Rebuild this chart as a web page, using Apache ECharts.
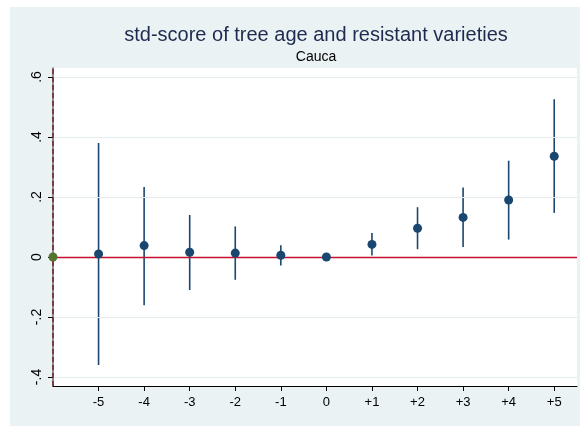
<!DOCTYPE html>
<html>
<head>
<meta charset="utf-8">
<script src="https://cdn.jsdelivr.net/npm/echarts@6/dist/echarts.min.js"></script>
<style>
  html, body { margin: 0; padding: 0; background: #fff; }
  #main { width: 580px; height: 426px; }
</style>
</head>
<body>
<div id="main"></div>
<script>
  // event time (years relative to change)
  let xTicks = [-5, -4, -3, -2, -1, 0, 1, 2, 3, 4, 5]
  let xTickLabels = ['-5', '-4', '-3', '-2', '-1', '0', '+1', '+2', '+3', '+4', '+5']
  // point estimates and 95% CI
  let coef = [0.010, 0.038, 0.016, 0.013, 0.006, 0.000, 0.042, 0.096, 0.132, 0.190, 0.336]
  let ciLow = [-0.360, -0.161, -0.110, -0.076, -0.028, 0.000, 0.005, 0.026, 0.033, 0.058, 0.147]
  let ciHigh = [0.380, 0.233, 0.140, 0.102, 0.039, 0.000, 0.080, 0.166, 0.232, 0.321, 0.526]
  let yTicks = [-0.4, -0.2, 0, 0.2, 0.4, 0.6]
  let yTickLabels = ['-.4', '-.2', '0', '.2', '.4', '.6']
  let refPoint = [[-6, 0]]

  let navy = '#1a476f'
  let chart = echarts.init(document.getElementById('main'))

  let pointData = []
  let ciData = []
  xTicks.forEach((x, i) => {
    pointData.push([x, coef[i]])
    ciData.push([x, ciLow[i], ciHigh[i]])
  })

  let option = {
    backgroundColor: '#fff',
    animation: false,
    textStyle: { fontFamily: 'Liberation Sans, Arial, sans-serif' },
    graphic: [
      { type: 'rect', z: -10, shape: { x: 10, y: 7, width: 570, height: 419 }, style: { fill: '#eaf2f3' } },
      { type: 'text', x: 316, y: 35, style: { text: 'std-score of tree age and resistant varieties', fill: '#1e2b4f',
        font: '20px "Liberation Sans", Arial, sans-serif', align: 'center', verticalAlign: 'middle' } },
      { type: 'text', x: 316, y: 57, style: { text: 'Cauca', fill: '#000',
        font: '14px "Liberation Sans", Arial, sans-serif', align: 'center', verticalAlign: 'middle' } }
    ],
    grid: {
      left: 53, top: 68, width: 524, height: 318,
      show: true, backgroundColor: '#fff', borderWidth: 0
    },
    xAxis: {
      type: 'value',
      min: -6,
      max: 5.5,
      splitLine: { show: false },
      axisLine: { onZero: false, lineStyle: { color: '#000', width: 1 } },
      axisTick: { customValues: xTicks, length: 5, lineStyle: { color: '#000' } },
      axisLabel: {
        customValues: xTicks,
        color: '#000', fontSize: 13, margin: 10,
        formatter: (v) => {
          let i = xTicks.indexOf(Math.round(v))
          return i >= 0 ? xTickLabels[i] : ''
        }
      }
    },
    yAxis: {
      type: 'value',
      min: -0.43,
      max: 0.63,
      splitLine: { show: false },
      axisLine: { onZero: false, lineStyle: { color: '#666', width: 1.5 } },
      axisTick: { customValues: yTicks, length: 5, lineStyle: { color: '#000' } },
      axisLabel: {
        customValues: yTicks,
        rotate: 90, color: '#000', fontSize: 14, margin: 9,
        formatter: (v) => {
          let i = yTicks.findIndex(t => Math.abs(t - v) < 1e-6)
          return i >= 0 ? yTickLabels[i] : ''
        }
      }
    },
    series: [
      {
        // gridlines
        type: 'line',
        data: [],
        silent: true,
        markLine: {
          silent: true,
          symbol: 'none',
          label: { show: false },
          data: yTicks.map(t => ({ yAxis: t, lineStyle: { color: '#e4ecee', width: 1, type: 'solid' } }))
        }
      },
      {
        // zero line and dashed line at -6
        type: 'line',
        data: [],
        silent: true,
        z: 3,
        markLine: {
          silent: true,
          symbol: 'none',
          label: { show: false },
          data: [
            { yAxis: 0, lineStyle: { color: '#c8102e', width: 1.3, type: 'solid' } },
            { xAxis: -6, lineStyle: { color: '#7a1f35', width: 1.5, type: [5, 3] } }
          ]
        }
      },
      {
        type: 'custom',
        z: 4,
        data: ciData,
        renderItem: (params, api) => {
          let lo = api.coord([api.value(0), api.value(1)])
          let hi = api.coord([api.value(0), api.value(2)])
          return {
            type: 'line',
            shape: { x1: lo[0], y1: lo[1], x2: hi[0], y2: hi[1] },
            style: { stroke: navy, lineWidth: 1.6 }
          }
        }
      },
      {
        type: 'scatter',
        z: 5,
        data: pointData,
        symbolSize: 9,
        itemStyle: { color: navy, opacity: 1 }
      },
      {
        type: 'scatter',
        z: 6,
        data: refPoint,
        symbolSize: 9,
        itemStyle: { color: '#55752f', opacity: 1 }
      }
    ]
  }
  chart.setOption(option)
</script>
</body>
</html>
